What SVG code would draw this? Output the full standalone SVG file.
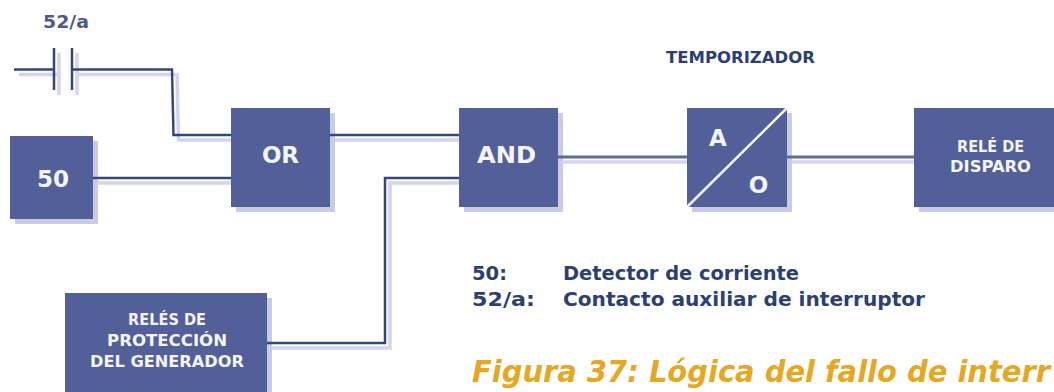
<svg xmlns="http://www.w3.org/2000/svg" width="1054" height="392" viewBox="0 0 1054 392">
<style>
text{font-family:"DejaVu Sans","Liberation Sans",sans-serif;font-weight:700}
.box{fill:#525f98}
.sh{fill:#c9cce4}
.w{fill:#f4f5fa;text-anchor:middle}
.s{font-size:16px}
.b{font-size:23px}
.d{fill:#2b3f73;font-size:20px}
.ln{fill:none;stroke:#34477c;stroke-width:2.500}
.lg{fill:none;stroke:#5d6a9c;stroke-width:3}
.lns{fill:none;stroke:#d3d6ea;stroke-width:3.500}
</style>
<rect width="1054" height="392" fill="#fff"/>
<g id="node-50"><rect class="sh" x="15" y="141" width="83" height="83"/><rect class="box" x="10" y="136" width="83" height="83"/><text class="w b" x="53" y="187" textLength="32">50</text></g>
<g id="node-or"><rect class="sh" x="236" y="113" width="99" height="99"/><rect class="box" x="231" y="108" width="99" height="99"/><text class="w b" x="280.500" y="163" textLength="37">OR</text></g>
<g id="node-and"><rect class="sh" x="464" y="113" width="99" height="99"/><rect class="box" x="459" y="108" width="99" height="99"/><text class="w b" x="506.500" y="163" textLength="59" lengthAdjust="spacingAndGlyphs">AND</text></g>
<g id="node-temporizador"><rect class="sh" x="692" y="113" width="100" height="99"/><rect class="box" x="687" y="108" width="100" height="99"/><path d="M687 207L787 108" stroke="#f4f5fa" stroke-width="2.500"/><text class="w b" x="718" y="146">A</text><text class="w b" x="758.500" y="193">O</text></g>
<g id="node-rele-disparo"><rect class="sh" x="919" y="113" width="140" height="99"/><rect class="box" x="914" y="108" width="145" height="99"/><text class="w s" x="990.500" y="152" textLength="67" lengthAdjust="spacingAndGlyphs">RELÉ DE</text><text class="w s" x="990.500" y="172" textLength="81" lengthAdjust="spacingAndGlyphs">DISPARO</text></g>
<g id="node-reles-proteccion"><rect class="sh" x="70" y="298" width="202" height="99"/><rect class="box" x="65" y="293" width="202" height="99"/><text class="w s" x="167" y="325" textLength="78" lengthAdjust="spacingAndGlyphs">RELÉS DE</text><text class="w s" x="167" y="346" textLength="120" lengthAdjust="spacingAndGlyphs">PROTECCIÓN</text><text class="w s" x="167" y="367" textLength="154" lengthAdjust="spacingAndGlyphs">DEL GENERADOR</text></g>
<g id="connectors">
<g class="lns">
<path d="M19 74.500H59M59 53V95M77 53V95M77 74.500H177L178.500 140H231"/>
<path d="M98 183H231M335 140H459M272 348H390V183H459M563 162H687M792 162H914"/>
</g>
<path class="ln" d="M14 69.500H54M54 48V90M72 48V90M72 69.500H172L173.500 135H231"/>
<path class="ln" d="M93 178H231M330 135H459M267 343H385V178H459"/>
<path class="lg" d="M558 157H687M787 157H914"/>
</g>
<text x="43" y="28" fill="#4c5a8c" font-size="17" textLength="46" lengthAdjust="spacingAndGlyphs">52/a</text>
<text x="666" y="63" fill="#2b3f73" font-size="16" textLength="149" lengthAdjust="spacingAndGlyphs">TEMPORIZADOR</text>
<text class="d" x="472" y="280" textLength="35" lengthAdjust="spacingAndGlyphs">50:</text><text class="d" x="563" y="280" textLength="236" lengthAdjust="spacingAndGlyphs">Detector de corriente</text>
<text class="d" x="472" y="306" textLength="63" lengthAdjust="spacingAndGlyphs">52/a:</text><text class="d" x="563" y="306" textLength="362" lengthAdjust="spacingAndGlyphs">Contacto auxiliar de interruptor</text>
<text x="472" y="382" fill="#e5a823" font-size="31" font-style="italic" textLength="578" lengthAdjust="spacingAndGlyphs">Figura 37: Lógica del fallo de interr</text>
</svg>
